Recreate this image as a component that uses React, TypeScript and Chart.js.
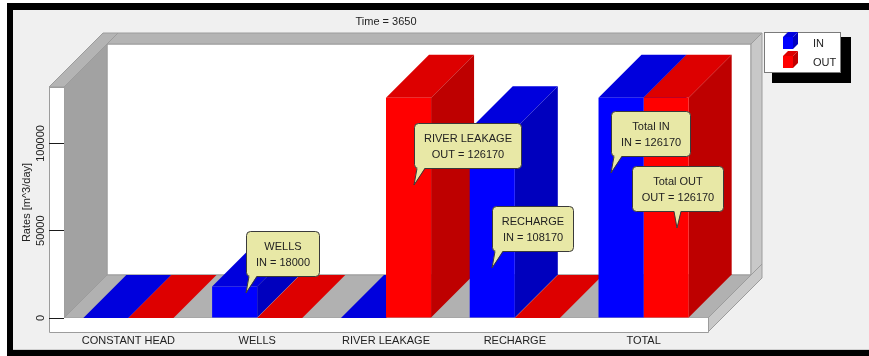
import React, { useEffect, useRef } from 'react';
import { Chart, registerables } from 'chart.js';

Chart.register(...registerables);

// ---------- data ----------
const categories = ['CONSTANT HEAD', 'WELLS', 'RIVER LEAKAGE', 'RECHARGE', 'TOTAL'];
const seriesNames = ['IN', 'OUT'];
const inValues = [0, 18000, 0, 108170, 126170];
const outValues = [0, 0, 126170, 0, 126170];
const yTickValues = [0, 50000, 100000];
const yMax = 132300;
const chartTitle = 'Time = 3650';
const yAxisTitle = 'Rates [m^3/day]';

// callout marks: which bar they belong to, their heading, and where the pointer touches the bar (data units)
const calloutTitles = ['WELLS', 'RIVER LEAKAGE', 'RECHARGE', 'Total IN', 'Total OUT'];
const calloutCategory = [1, 2, 3, 4, 4];
const calloutSeries = [0, 1, 0, 0, 1];
const calloutTipValue = [14370, 76440, 28740, 82760, 51720];

// ---------- styling / layout ----------
const FONT = '"Liberation Sans", Arial, sans-serif';
const TEXT = '#222222';
const DEPTH = 43;
const BACK_T = 11;
const LEFT_T = 15;
const FLOOR_T = 14;
const frontColors = ['#0000FF', '#FF0000'];
const topColors = ['#0000DD', '#DD0000'];
const sideColors = ['#0000BE', '#BE0000'];
const calloutTipDx = [11, 5, 0, -10, 11];
const calloutAnchor = ['left', 'left', 'left', 'left', 'center'];

type Pt = [number, number];

function poly(ctx: CanvasRenderingContext2D, pts: Pt[], fill: string, stroke?: string) {
  ctx.beginPath();
  ctx.moveTo(pts[0][0], pts[0][1]);
  for (let i = 1; i < pts.length; i++) ctx.lineTo(pts[i][0], pts[i][1]);
  ctx.closePath();
  ctx.fillStyle = fill;
  ctx.fill();
  if (stroke) {
    ctx.strokeStyle = stroke;
    ctx.lineWidth = 1;
    ctx.stroke();
  }
}

const threeD = {
  id: 'threeD',
  beforeDraw(chart: any) {
    const { ctx, width, height } = chart;
    const { left: L, right: R, top: T, bottom: B } = chart.chartArea;
    const D = DEPTH, W = BACK_T;
    ctx.save();
    // frame
    ctx.fillStyle = '#FFFFFF';
    ctx.fillRect(0, 0, width, height);
    ctx.fillStyle = '#000000';
    ctx.fillRect(7, 3, width - 7, height - 3);
    ctx.fillStyle = '#F0F0F0';
    ctx.fillRect(13, 10, width - 13, 340);
    ctx.fillStyle = '#CFCFCF';
    ctx.fillRect(13, 349, width - 13, 1);

    const edge = '#9C9C9C';
    // back wall
    poly(ctx, [[L + D, T - D], [R + D, T - D], [R + D, B - D], [L + D, B - D]], '#FFFFFF', edge);
    poly(ctx, [[L + D, T - D], [R + D, T - D], [R + D + W, T - D - W], [L + D + W, T - D - W]], '#B4B4B4', edge);
    poly(ctx, [[R + D, T - D], [R + D + W, T - D - W], [R + D + W, B - D - W], [R + D, B - D]], '#C8C8C8', edge);
    // left wall
    poly(ctx, [[L - LEFT_T, T], [L, T], [L + D + W, T - D - W], [L - LEFT_T + D + W, T - D - W]], '#B4B4B4', edge);
    poly(ctx, [[L, T], [L + D, T - D], [L + D, B - D], [L, B]], '#A2A2A2', edge);
    // floor
    poly(ctx, [[L, B], [R, B], [R + D, B - D], [L + D, B - D]], '#B1B1B1', edge);
    poly(ctx, [[R, B], [R + D + W, B - D - W], [R + D + W, B + FLOOR_T - D - W], [R, B + FLOOR_T]], '#C8C8C8', edge);
    // front faces of left wall and floor
    ctx.fillStyle = '#FFFFFF';
    ctx.fillRect(L - LEFT_T, T, LEFT_T, B + FLOOR_T - T);
    ctx.fillRect(L - LEFT_T, B, R - L + LEFT_T, FLOOR_T);
    ctx.strokeStyle = edge;
    ctx.lineWidth = 1;
    ctx.beginPath();
    ctx.moveTo(L - LEFT_T + 0.5, T);
    ctx.lineTo(L - LEFT_T + 0.5, B + FLOOR_T + 0.5);
    ctx.lineTo(R + 0.5, B + FLOOR_T + 0.5);
    ctx.lineTo(R + 0.5, B);
    ctx.moveTo(L - LEFT_T, T + 0.5);
    ctx.lineTo(L, T + 0.5);
    ctx.stroke();
    ctx.restore();
  },
  beforeDatasetsDraw(chart: any) {
    const { ctx } = chart;
    const D = DEPTH;
    ctx.save();
    for (let i = 0; i < categories.length; i++) {
      for (let s = 0; s < 2; s++) {
        const el = chart.getDatasetMeta(s).data[i];
        const { x, y, base, width } = el.getProps(['x', 'y', 'base', 'width'], true);
        const x0 = x - width / 2, x1 = x + width / 2;
        poly(ctx, [[x0, y], [x1, y], [x1 + D, y - D], [x0 + D, y - D]], topColors[s]);
        if (base - y > 0.5) {
          poly(ctx, [[x1, y], [x1 + D, y - D], [x1 + D, base - D], [x1, base]], sideColors[s]);
        }
      }
    }
    ctx.restore();
  },
  afterDraw(chart: any) {
    const { ctx } = chart;
    const { right: R, top: T } = chart.chartArea;
    const yScale = chart.scales.y;
    ctx.save();

    // legend
    const lx = Math.round(R + DEPTH + BACK_T + 2);
    const ly = Math.round(T - DEPTH - BACK_T - 1);
    ctx.fillStyle = '#000000';
    ctx.fillRect(lx + 8, ly + 5, 79, 46);
    ctx.fillStyle = '#FFFFFF';
    ctx.fillRect(lx, ly, 77, 41);
    ctx.strokeStyle = '#7A7A7A';
    ctx.lineWidth = 1;
    ctx.strokeRect(lx + 0.5, ly + 0.5, 76, 40);
    ctx.font = `11px ${FONT}`;
    ctx.textAlign = 'left';
    ctx.textBaseline = 'middle';
    for (let s = 0; s < 2; s++) {
      const fx = lx + 19, fy = ly + 5 + s * 19, fw = 10, fh = 12, d = 5;
      poly(ctx, [[fx, fy], [fx + fw, fy], [fx + fw + d, fy - d], [fx + d, fy - d]], topColors[s]);
      poly(ctx, [[fx + fw, fy], [fx + fw + d, fy - d], [fx + fw + d, fy + fh - d], [fx + fw, fy + fh]], sideColors[s]);
      ctx.fillStyle = frontColors[s];
      ctx.fillRect(fx, fy, fw, fh);
      ctx.fillStyle = TEXT;
      ctx.fillText(chart.data.datasets[s].label, lx + 49, ly + 12 + s * 19);
    }

    // callouts
    for (let k = 0; k < calloutTitles.length; k++) {
      const s = calloutSeries[k], c = calloutCategory[k];
      const el = chart.getDatasetMeta(s).data[c];
      const value = chart.data.datasets[s].data[c];
      const tipX = Math.round(el.x + calloutTipDx[k]);
      const tipY = Math.round(yScale.getPixelForValue(calloutTipValue[k]));
      const lines = [calloutTitles[k], `${chart.data.datasets[s].label} = ${value}`];
      const w = Math.round(Math.max(...lines.map((t) => ctx.measureText(t).width)) + 19);
      const h = 45;
      const by = tipY - 17 - h;
      let bx: number, t0: number, t1: number;
      if (calloutAnchor[k] === 'left') {
        bx = tipX;
        t0 = bx + 3;
        t1 = bx + 11;
      } else {
        bx = Math.round(tipX - w / 2);
        t0 = tipX - 3;
        t1 = tipX + 4;
      }
      ctx.beginPath();
      (ctx as any).roundRect(bx + 0.5, by + 0.5, w, h, 4);
      ctx.fillStyle = '#E8E8A6';
      ctx.fill();
      ctx.strokeStyle = '#3A3A3A';
      ctx.lineWidth = 1;
      ctx.stroke();
      // tail
      ctx.beginPath();
      ctx.moveTo(t0, by + h - 0.5);
      ctx.lineTo(tipX, tipY);
      ctx.lineTo(t1, by + h - 0.5);
      ctx.closePath();
      ctx.fillStyle = '#E8E8A6';
      ctx.fill();
      ctx.beginPath();
      ctx.moveTo(t0, by + h + 0.5);
      ctx.lineTo(tipX, tipY);
      ctx.lineTo(t1, by + h + 0.5);
      ctx.strokeStyle = '#3A3A3A';
      ctx.stroke();
      ctx.fillStyle = TEXT;
      ctx.textAlign = 'center';
      ctx.textBaseline = 'middle';
      ctx.fillText(lines[0], bx + w / 2 + 0.5, by + 15.5);
      ctx.fillText(lines[1], bx + w / 2 + 0.5, by + 31.5);
    }
    ctx.restore();
  },
};

export default function App() {
  const ref = useRef<HTMLCanvasElement>(null);
  useEffect(() => {
    const font = { family: FONT, size: 11, weight: 'normal' as const };
    const chart = new Chart(ref.current as HTMLCanvasElement, {
      type: 'bar',
      data: {
        labels: categories,
        datasets: [
          { label: seriesNames[0], data: inValues, backgroundColor: frontColors[0], borderWidth: 0, categoryPercentage: 0.7, barPercentage: 1 },
          { label: seriesNames[1], data: outValues, backgroundColor: frontColors[1], borderWidth: 0, categoryPercentage: 0.7, barPercentage: 1 },
        ],
      },
      options: {
        responsive: false,
        animation: false,
        devicePixelRatio: 1,
        events: [],
        layout: { padding: { left: 13, top: 10, right: 161, bottom: 0 } },
        plugins: {
          legend: { display: false },
          tooltip: { enabled: false },
          title: {
            display: true,
            text: chartTitle,
            fullSize: false,
            color: TEXT,
            font,
            padding: { top: 5.4, bottom: 58.4 },
          },
        },
        scales: {
          x: {
            grid: { display: false },
            border: { display: false },
            ticks: { color: TEXT, font, padding: 8, maxRotation: 0, autoSkip: false },
            afterFit: (s: any) => { s.height = 38; },
          },
          y: {
            min: 0,
            max: yMax,
            afterFit: (s: any) => { s.width = 51; },
            afterBuildTicks: (s: any) => { s.ticks = yTickValues.map((v) => ({ value: v })); },
            grid: { drawOnChartArea: false, drawTicks: true, tickLength: 15, color: '#1A1A1A', lineWidth: 1 },
            border: { display: false },
            ticks: {
              color: TEXT,
              font,
              minRotation: 90,
              maxRotation: 90,
              crossAlign: 'center',
              padding: -10,
              callback: (v: any) => String(v),
            },
            title: { display: true, text: yAxisTitle, color: TEXT, font, padding: { top: 7.4, bottom: 0 } },
          },
        },
      } as any,
      plugins: [threeD],
    });
    return () => chart.destroy();
  }, []);
  return (
    <div style={{ position: 'fixed', left: 0, top: 0, width: 869, height: 356 }}>
      <canvas ref={ref} width={869} height={356} style={{ display: 'block', width: 869, height: 356 }} />
    </div>
  );
}
